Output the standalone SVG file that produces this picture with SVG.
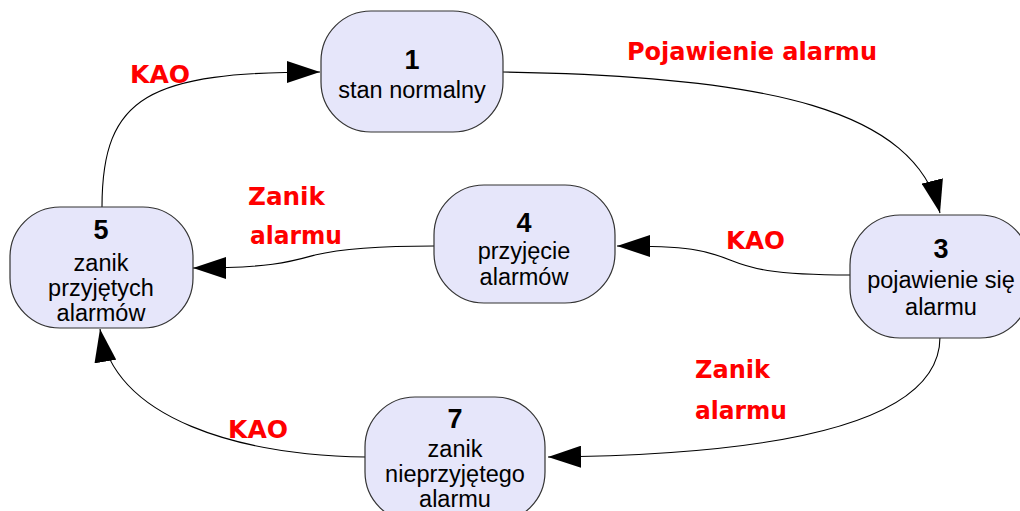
<svg xmlns="http://www.w3.org/2000/svg" width="1020" height="511" viewBox="0 0 1020 511">
<style>
.node rect{fill:#e6e6fa;stroke:#333;stroke-width:1.2}
.num{font-family:"Liberation Sans",Arial,sans-serif;font-weight:bold;font-size:27px;fill:#000;text-anchor:middle}
.txt{font-family:"Liberation Sans",Arial,sans-serif;font-size:23.5px;fill:#000;text-anchor:middle}
.lbl{font-family:"Comic Sans MS","DejaVu Sans",sans-serif;font-weight:bold;font-size:24px;fill:#ff0000}
.edge{fill:none;stroke:#000;stroke-width:1.1;marker-end:url(#arr)}
</style>
<defs>
<marker id="arr" viewBox="0 0 33 22" refX="33" refY="11" markerWidth="33" markerHeight="22" markerUnits="userSpaceOnUse" orient="auto">
<path d="M0,0 L33,11 L0,22 z" fill="#000"/>
</marker>
</defs>
<g id="connectors">
<path class="edge" d="M102,207 C102,95 150,72 320,72"/>
<path class="edge" d="M503,72 C770,76 915,110 940,213"/>
<path class="edge" d="M850,275 C770,275 750,268 730,260 C705,250 690,246 617,246"/>
<path class="edge" d="M434,246 C380,246 340,249 315,255 C290,262 270,268 193,268"/>
<path class="edge" d="M940,337 C940,420 790,455 548,457"/>
<path class="edge" d="M366,457 C240,455 115,420 100,329"/>
</g>
<g id="labels">
<text class="lbl" x="627" y="60" textLength="250" lengthAdjust="spacingAndGlyphs">Pojawienie alarmu</text>
<text class="lbl" x="130" y="83" textLength="60" lengthAdjust="spacingAndGlyphs">KAO</text>
<text class="lbl" x="248" y="205" textLength="77" lengthAdjust="spacingAndGlyphs">Zanik</text>
<text class="lbl" x="250" y="244" textLength="92" lengthAdjust="spacingAndGlyphs">alarmu</text>
<text class="lbl" x="726" y="249" textLength="59" lengthAdjust="spacingAndGlyphs">KAO</text>
<text class="lbl" x="695" y="378" textLength="75" lengthAdjust="spacingAndGlyphs">Zanik</text>
<text class="lbl" x="695" y="419" textLength="92" lengthAdjust="spacingAndGlyphs">alarmu</text>
<text class="lbl" x="228" y="438" textLength="60" lengthAdjust="spacingAndGlyphs">KAO</text>
</g>
<g id="node1" class="node">
<rect x="321" y="11" width="182" height="121" rx="50" ry="50"/>
<text class="num" x="412" y="69">1</text>
<text class="txt" x="412" y="98">stan normalny</text>
</g>
<g id="node3" class="node">
<rect x="850" y="215" width="180" height="123" rx="50" ry="50"/>
<text class="num" x="941" y="258">3</text>
<text class="txt" x="941" y="288">pojawienie się</text>
<text class="txt" x="941" y="315">alarmu</text>
</g>
<g id="node4" class="node">
<rect x="434" y="185" width="181" height="118" rx="50" ry="50"/>
<text class="num" x="524" y="232">4</text>
<text class="txt" x="524" y="259">przyjęcie</text>
<text class="txt" x="524" y="285">alarmów</text>
</g>
<g id="node5" class="node">
<rect x="10" y="207" width="183" height="121" rx="50" ry="50"/>
<text class="num" x="101" y="239">5</text>
<text class="txt" x="101" y="271">zanik</text>
<text class="txt" x="101" y="296">przyjętych</text>
<text class="txt" x="101" y="321">alarmów</text>
</g>
<g id="node7" class="node">
<rect x="365" y="397" width="180" height="125" rx="50" ry="50"/>
<text class="num" x="455" y="428">7</text>
<text class="txt" x="455" y="457">zanik</text>
<text class="txt" x="455" y="482">nieprzyjętego</text>
<text class="txt" x="455" y="507">alarmu</text>
</g>
</svg>
